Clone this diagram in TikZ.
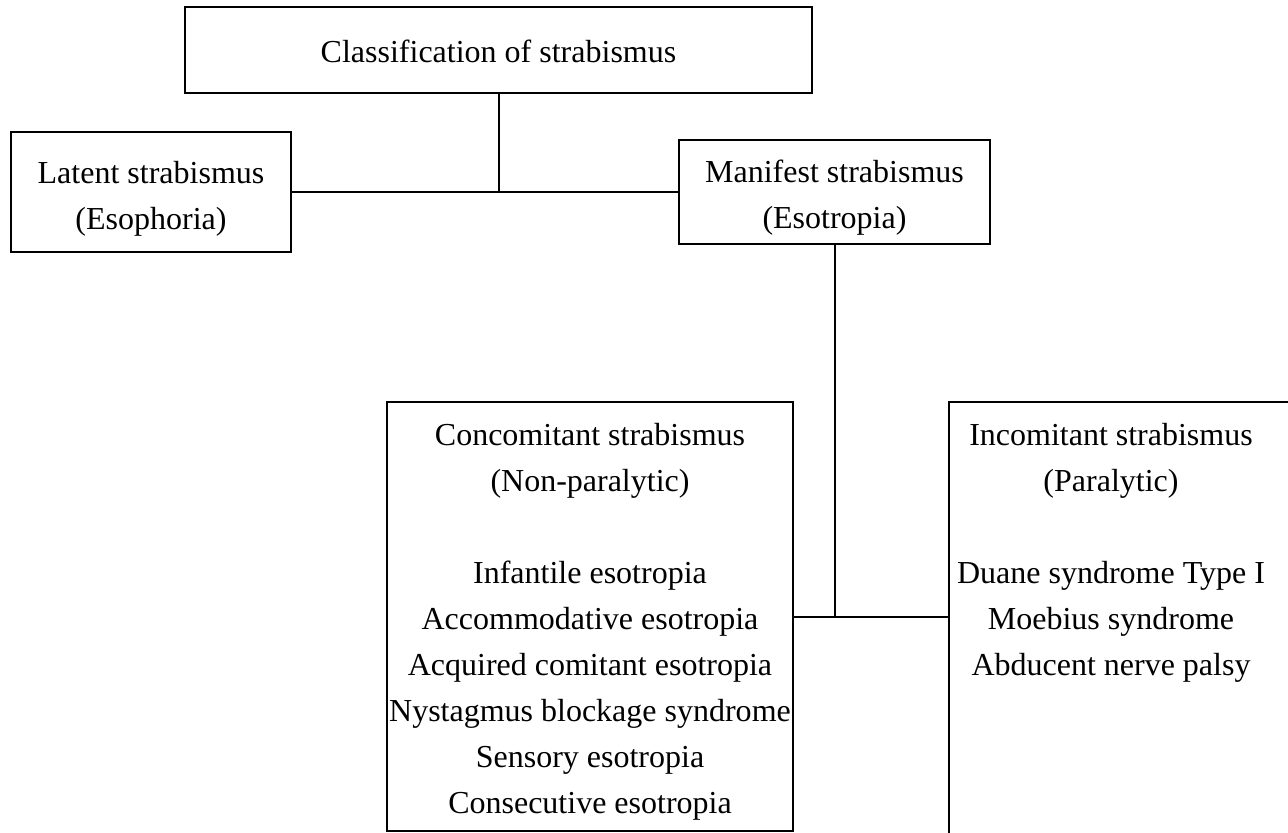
\documentclass[tikz,border=0pt]{standalone}
\usepackage{fontspec}
\setmainfont{Liberation Serif}
\usetikzlibrary{calc}
% raise the top of the first text line
\newcommand\topgap[1]{\rule{0pt}{#1}}
\tikzset{
  font=\fontsize{16}{23}\selectfont,
  % Class box
  cbox/.style={draw, line width=1pt, align=center, inner sep=0pt},
  % Connector
  link/.style={line width=1pt},
}

\begin{document}
\begin{tikzpicture}[x=0.5pt, y=-0.5pt]
  \useasboundingbox (0,0) rectangle (1288,832);
  \clip (0,0) rectangle (1288,832);

  \node[cbox, minimum width=313.5pt, minimum height=43pt] (cls)
    at (498.5,50) {\topgap{13pt}Classification of strabismus};
  \node[cbox, minimum width=140pt, minimum height=60pt] (lat)
    at (151,192) {\topgap{18pt}Latent strabismus\\(Esophoria)};
  \node[cbox, minimum width=155.5pt, minimum height=52pt] (man)
    at (834.5,192) {\topgap{17pt}Manifest strabismus\\(Esotropia)};

  \node[cbox, minimum width=203pt, minimum height=214.5pt] (con)
    at (590,616.5)
    {\topgap{16pt}Concomitant strabismus\\(Non-paralytic)\\[23pt]
     Infantile esotropia\\Accommodative esotropia\\
     Acquired comitant esotropia\\Nystagmus blockage syndrome\\
     Sensory esotropia\\Consecutive esotropia};

  % incomitant box runs off the page
  \node[cbox, draw=none, anchor=north west, minimum width=161pt, inner ysep=10pt]
    (inc) at (949,402)
    {Incomitant strabismus\\(Paralytic)\\[23pt]Duane syndrome Type I\\
     Moebius syndrome\\Abducent nerve palsy};
  \draw[link] ([xshift=200pt]inc.north west) -- (inc.north west) -- ++(0,500);

  \draw[link] (lat) -- (man);
  \draw[link] (cls) -- (cls |- lat);
  \draw[link] (man) -- (man |- con);
  \draw[link] (con) -- (con -| inc.west);
\end{tikzpicture}
\end{document}
